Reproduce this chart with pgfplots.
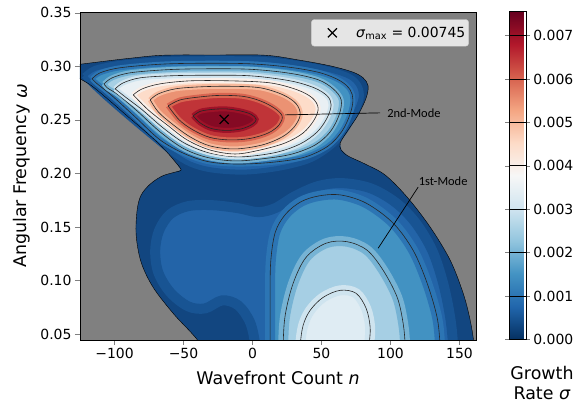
\documentclass[border=0pt]{standalone}
\usepackage{fontspec}
\setmainfont{DejaVu Sans}[ItalicFont={DejaVu Sans Oblique}]
\newfontfamily\calfont{Carlito}
\usepackage{pgfplots}
\pgfplotsset{compat=1.18}
\definecolor{bgray}{RGB}{128,128,128}
% band colours (RdBu_r at band middles)
\definecolor{b0}{RGB}{18,70,128}
\definecolor{b1}{RGB}{35,100,168}
\definecolor{b2}{RGB}{66,146,194}
\definecolor{b3}{RGB}{166,207,228}
\definecolor{b4}{RGB}{233,240,244}
\definecolor{b5}{RGB}{253,220,201}
\definecolor{b6}{RGB}{235,146,115}
\definecolor{b7}{RGB}{192,52,56}
\definecolor{b8}{RGB}{133,10,36}
\definecolor{m3}{RGB}{223,236,243}
% colours at the contour levels
\definecolor{c05}{RGB}{24,84,147}
\definecolor{c1}{RGB}{44,117,180}
\definecolor{c2}{RGB}{118,179,212}
\definecolor{c3}{RGB}{207,228,239}
\definecolor{c4}{RGB}{249,239,233}
\definecolor{c5}{RGB}{247,185,156}
\definecolor{c6}{RGB}{216,100,80}
\definecolor{c7}{RGB}{158,18,40}
\newcommand{\tfont}{\fontsize{14}{16}\selectfont}
\newcommand{\lfont}{\fontsize{17.5}{20}\selectfont}
\pgfplotsset{
  lev/.style={smooth, tension=0.55, forget plot, draw=#1, line width=5bp,
    postaction={draw=black!85, line width=0.6bp, fill=none}},
  levw/.style={smooth, tension=0.55, forget plot, draw=#1, line width=10bp,
    postaction={draw=black!85, line width=0.6bp, fill=none}},
}
\begin{document}
\begin{tikzpicture}
\begin{axis}[
  at={(80bp,65bp)}, anchor=south west,
  scale only axis, width=396bp, height=327.7bp,
  xmin=-125, xmax=162, ymin=0.0445, ymax=0.3505,
  axis background/.style={fill=bgray},
  axis on top,
  tick align=outside, major tick length=5bp,
  xtick pos=bottom, ytick pos=left,
  xtick={-100,-50,0,50,100,150},
  xticklabels={−100,−50,0,50,100,150},
  ytick={0.05,0.1,0.15,0.2,0.25,0.3,0.35},
  yticklabels={0.05,0.10,0.15,0.20,0.25,0.30,0.35},
  ticklabel style={font=\tfont},
  xlabel={Wavefront Count \textit{n}},
  ylabel={Angular Frequency \textit{ω}},
  label style={font=\lfont},
  xlabel style={at={(axis description cs:0.5,-0.116)}, anchor=center},
  ylabel style={at={(axis description cs:-0.1465,0.5)}, anchor=center},
  colormap={rdbu}{rgb255(0cm)=(5,48,97); rgb255(1cm)=(33,102,172); rgb255(2cm)=(67,147,195); rgb255(3cm)=(146,197,222); rgb255(4cm)=(209,229,240); rgb255(5cm)=(247,247,247); rgb255(6cm)=(253,219,199); rgb255(7cm)=(244,165,130); rgb255(8cm)=(214,96,77); rgb255(9cm)=(178,24,43); rgb255(10cm)=(103,0,31)},
  point meta min=0, point meta max=0.00755,
  colorbar,
  colorbar style={
    at={(500.7bp,393.3bp)}, anchor=north west,
    width=16.6bp,
    ytick={0,0.001,0.002,0.003,0.004,0.005,0.006,0.007},
    yticklabels={0.000,0.001,0.002,0.003,0.004,0.005,0.006,0.007},
    scaled y ticks=false,
    ymajorgrids, grid style={black, line width=0.9bp},
    tick align=outside, major tick length=4bp,
    yticklabel style={font=\tfont},
  },
  legend style={at={(0.982,0.9786)}, anchor=north east, fill=white, fill opacity=0.8, text opacity=1, draw={rgb,255:red,204;green,204;blue,204}, rounded corners=3bp, font=\tfont, inner xsep=1.3bp, inner ysep=0bp},
  legend cell align=left,
  legend image code/.code={
    \draw[black, line width=1.3bp, fill=none, rounded corners=0pt] (-4.5bp,-4.5bp)--(4.5bp,4.5bp) (-4.5bp,4.5bp)--(4.5bp,-4.5bp);
    \path[draw=none, fill=none] (-19.7bp,-13.35bp) rectangle (21.8bp,13.35bp);},
]
% unstable region, sigma > 0 : upper lobe with the neck
\addplot[fill=b0, draw=none, smooth, tension=0.55, forget plot] coordinates {
(-127.8,0.3015) (-110.4,0.3043) (-88.6,0.3076) (-64.7,0.3104) (-28,0.3106) (9.2,0.3104) (34.6,0.3057) (56.3,0.3005) (72.2,0.2949) (80.2,0.2893) (83.8,0.2818) (82.4,0.2706) (76.6,0.2547) (69.3,0.2406) (63.6,0.2285) (64.3,0.2219) (64,0.200) (30,0.190) (-20,0.188) (-45,0.195) (-51.7,0.2032) (-55.3,0.2098) (-64.7,0.2238) (-75.6,0.2369) (-90.8,0.2537) (-106.7,0.2715) (-117.6,0.2828) (-127.8,0.2903)};
% unstable region, sigma > 0 : lower part with the neck
\addplot[fill=b0, draw=none, smooth, tension=0.55, forget plot] coordinates {
(-51.7,0.2032) (-40,0.2125) (0,0.2170) (40,0.2220) (55,0.2240) (64.3,0.2219) (69.3,0.2163) (81.7,0.2088) (96.2,0.1985) (112.1,0.1779) (128.8,0.1499) (143.3,0.1190) (152.7,0.0881) (157.8,0.0628) (160.7,0.0394) (161.5,0.02) (-39,0.02) (-37.2,0.0394) (-57.5,0.0694) (-72.0,0.0937) (-80.7,0.1171) (-84.3,0.1424) (-83.6,0.1658) (-80.7,0.1798) (-74.1,0.1901) (-65.4,0.1976) (-56.0,0.2013) (-51.7,0.2032)};
% 0.0005 upper lobe
\addplot[fill=b1, draw=c05, line width=5bp, smooth, tension=0.55, forget plot] coordinates {
(-122.0,0.2912) (-114.0,0.2982) (-95.9,0.3029) (-66.9,0.3062) (-37.9,0.3071) (5.6,0.3066) (34.6,0.3024) (56.3,0.2968) (70.8,0.2903) (77.3,0.2818) (78.8,0.2706) (74.4,0.2556) (67.2,0.2397) (57.8,0.2257) (41.8,0.2126) (20.1,0.2051) (-5.3,0.2013) (-29.2,0.2032) (-45.1,0.2088) (-58.2,0.2191) (-72.7,0.2341) (-90.1,0.2528) (-106.0,0.2706) (-117.6,0.2846) (-122.0,0.2912)};
% 0.0005 lower region
\addplot[fill=b1, draw=c05, line width=10bp, smooth, tension=0.55, forget plot] coordinates {
(2.0,0.02) (2.0,0.0394) (-1.7,0.0609) (-10.4,0.0769) (-22.0,0.0815) (-34.3,0.0740) (-46.6,0.0759) (-59.6,0.0890) (-68.3,0.1077) (-70.5,0.1283) (-67.6,0.1470) (-59.6,0.1620) (-46.6,0.1695) (-29.2,0.1704) (-10.4,0.1676) (4.1,0.1639) (16.4,0.1676) (30.9,0.1789) (47.6,0.1882) (65.0,0.1910) (85.3,0.1863) (103.4,0.1732) (117.9,0.1545) (130.2,0.1283) (138.2,0.0975) (143.3,0.0656) (145.4,0.0394) (145.6,0.02)};
% boundary line sigma = 0
\addplot[draw=black, line width=0.4bp, smooth, tension=0.55, forget plot] coordinates {
(-127.8,0.3015) (-110.4,0.3043) (-88.6,0.3076) (-64.7,0.3104) (-28,0.3106) (9.2,0.3104) (34.6,0.3057) (56.3,0.3005) (72.2,0.2949) (80.2,0.2893) (83.8,0.2818) (82.4,0.2706) (76.6,0.2547) (69.3,0.2406) (63.6,0.2285) (64.3,0.2219) (69.3,0.2163) (81.7,0.2088) (96.2,0.1985) (112.1,0.1779) (128.8,0.1499) (143.3,0.1190) (152.7,0.0881) (157.8,0.0628) (160.7,0.0394) (161.5,0.02)};
\addplot[draw=black, line width=0.4bp, smooth, tension=0.55, forget plot] coordinates {
(-39,0.02) (-37.2,0.0394) (-57.5,0.0694) (-72.0,0.0937) (-80.7,0.1171) (-84.3,0.1424) (-83.6,0.1658) (-80.7,0.1798) (-74.1,0.1901) (-65.4,0.1976) (-56.0,0.2013) (-51.7,0.2032) (-55.3,0.2098) (-64.7,0.2238) (-75.6,0.2369) (-90.8,0.2537) (-106.7,0.2715) (-117.6,0.2828) (-127.8,0.2903)};
% 2nd mode contours 0.001 ... 0.007
\addplot[fill=b2, lev=c1] coordinates {
(-116.2,0.2884) (-110.4,0.2940) (-95.9,0.2987) (-66.9,0.3020) (-37.9,0.3029) (-1.7,0.3024) (27.3,0.2991) (49.1,0.2940) (63.6,0.2865) (70.8,0.2781) (72.8,0.2687) (70.8,0.2556) (65.0,0.2397) (54.9,0.2257) (38.2,0.2154) (16.4,0.2107) (-8.9,0.2088) (-30.7,0.2107) (-48.8,0.2182) (-66.9,0.2313) (-85.0,0.2528) (-101.7,0.2725) (-112.5,0.2837) (-116.2,0.2884)};
\addplot[fill=b3, lev=c2] coordinates {
(-107.5,0.2837) (-101.7,0.2893) (-88.6,0.2940) (-63.3,0.2968) (-37.9,0.2977) (-1.7,0.2973) (27.3,0.2935) (47.6,0.2875) (58.5,0.2790) (64.3,0.2687) (62.8,0.2547) (56.3,0.2388) (45.4,0.2266) (28.8,0.2182) (9.2,0.2140) (-12.5,0.2117) (-32.8,0.2150) (-50.2,0.2235) (-66.9,0.2388) (-83.6,0.2584) (-97.3,0.2734) (-105.3,0.2800) (-107.5,0.2837)};
\addplot[fill=b4, lev=c3] coordinates {
(-99.5,0.2790) (-93.7,0.2846) (-81.4,0.2893) (-59.6,0.2912) (-34.3,0.2917) (-1.7,0.2912) (27.3,0.2865) (44.7,0.2800) (54.1,0.2725) (57.0,0.2641) (54.1,0.2519) (46.9,0.2388) (34.6,0.2276) (16.4,0.2195) (-8.9,0.2155) (-30.7,0.2190) (-48.8,0.2280) (-64.7,0.2425) (-79.9,0.2594) (-92.2,0.2715) (-99.5,0.2790)};
\addplot[fill=b5, lev=c4] coordinates {
(-86.4,0.2734) (-79.9,0.2790) (-66.9,0.2837) (-45.1,0.2865) (-16.2,0.2865) (12.8,0.2846) (32.4,0.2781) (43.3,0.2706) (47.6,0.2612) (44.7,0.2500) (36.7,0.2378) (23.7,0.2285) (5.6,0.2219) (-12.5,0.2182) (-30.7,0.2219) (-47.3,0.2313) (-61.8,0.2453) (-75.6,0.2594) (-86.4,0.2734)};
\addplot[fill=b6, lev=c5] coordinates {
(-74.1,0.2687) (-68.3,0.2743) (-56.0,0.2790) (-37.9,0.2809) (-16.2,0.2814) (5.6,0.2800) (22.2,0.2734) (31.7,0.2650) (34.6,0.2547) (30.2,0.2434) (21.5,0.2341) (7.0,0.2266) (-12.5,0.2229) (-30.7,0.2257) (-45.1,0.2341) (-58.2,0.2462) (-68.3,0.2575) (-74.1,0.2687)};
\addplot[fill=b7, lev=c6] coordinates {
(-61.1,0.2631) (-52.4,0.2687) (-37.9,0.2715) (-23.4,0.2729) (-6.7,0.2720) (5.6,0.2678) (15.7,0.2612) (21.5,0.2537) (19.3,0.2453) (11.4,0.2378) (-1.7,0.2327) (-16.2,0.2313) (-30.7,0.2336) (-43.0,0.2406) (-53.1,0.2500) (-61.1,0.2631)};
\addplot[fill=b8, lev=c7] coordinates {
(-43.0,0.2537) (-37.9,0.2580) (-29.2,0.2598) (-19.1,0.2603) (-8.9,0.2584) (-0.9,0.2552) (2.7,0.2505) (-0.2,0.2458) (-8.2,0.2416) (-19.1,0.2402) (-29.9,0.2420) (-37.9,0.2472) (-43.0,0.2537)};
% 1st mode contours 0.001 ... 0.003
\addplot[fill=b2, levw=c1] coordinates {
(12.8,0.02) (12.8,0.0394) (12.8,0.0815) (13.2,0.1171) (16.5,0.1450) (24,0.1620) (35,0.1735) (48,0.1790) (63.6,0.1800) (82.4,0.1723) (101.9,0.1537) (116.4,0.1283) (126.6,0.0975) (133.8,0.0656) (136.0,0.0394) (136.5,0.02)};
\addplot[fill=b3, levw=c2] coordinates {
(22.2,0.02) (22.2,0.0394) (23.7,0.0675) (29.5,0.0975) (38.9,0.1218) (53.4,0.1349) (68.6,0.1363) (83.1,0.1283) (94.7,0.1096) (104.9,0.0843) (109.2,0.0600) (110.7,0.0394) (111,0.02)};
\addplot[fill=m3, levw=c3] coordinates {
(34.6,0.02) (34.6,0.0394) (36.7,0.0581) (41.8,0.0722) (51.2,0.0843) (63.6,0.0909) (75.1,0.0881) (82.4,0.0740) (85.3,0.0563) (84.6,0.0394) (84.4,0.02)};
% maximum
\addplot[only marks, mark=x, mark size=6.4bp, line width=1.3bp, black] coordinates {(-20.5,0.2505)};
\addlegendentry{\textit{σ}\textsubscript{max} = 0.00745}
% annotations
\draw[black, line width=0.7bp] (axis cs:23.7,0.2547) -- (axis cs:92.5,0.2566);
\node[anchor=west, inner sep=0pt, font=\calfont\fontsize{12.5}{14}\selectfont] at (axis cs:97.6,0.2566) {2nd-Mode};
\draw[black, line width=0.7bp] (axis cs:91.1,0.1302) -- (axis cs:120.1,0.1873);
\node[anchor=center, inner sep=0pt, font=\calfont\fontsize{12.5}{14}\selectfont] at (axis cs:138.2,0.1929) {1st-Mode};
\end{axis}
\node[align=center, font=\lfont] at (542bp,22bp) {Growth\\Rate \textit{σ}};
\pgfresetboundingbox
\path[use as bounding box] (0,0) rectangle (581bp,405bp);
\end{tikzpicture}
\end{document}
